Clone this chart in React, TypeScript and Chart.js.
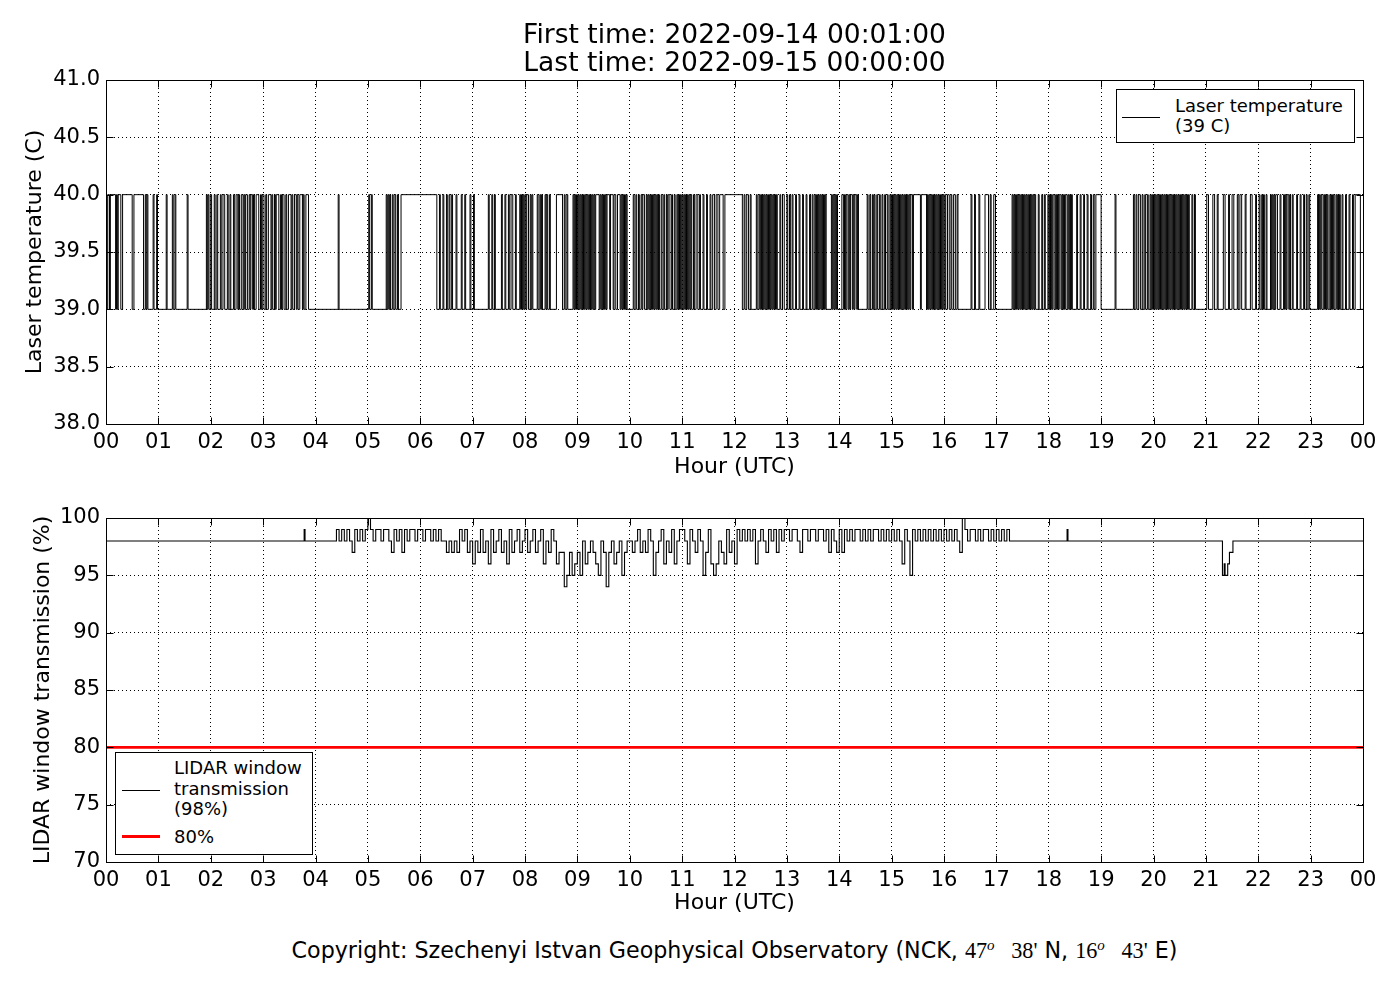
import { useEffect, useRef } from "react";
import { Chart, registerables } from "chart.js";

Chart.register(...registerables);

const FONT = "'DejaVu Sans', 'Noto Sans', sans-serif";

// tick labels
const hourTickLabels = ["00", "01", "02", "03", "04", "05", "06", "07", "08", "09", "10", "11", "12",
  "13", "14", "15", "16", "17", "18", "19", "20", "21", "22", "23", "00"];
const laserTicks = [38.0, 38.5, 39.0, 39.5, 40.0, 40.5, 41.0];
const windowTicks = [70, 75, 80, 85, 90, 95, 100];

const LASER_LOW = 39;
const LASER_HIGH = 40;
const WINDOW_LIMIT = 80;

// laser temperature: [start, end] minutes after 00:00 UTC where it read 40 C (39 C otherwise)
const laserHigh00 = [
  [0, 1], [2, 4], [5, 11], [12, 13], [14, 17], [19, 30], [32, 43], [45, 46], [47, 48], [54, 55], [58, 59],
  [69, 70], [76, 77], [79, 80], [93, 94], [115, 116], [117, 118],
  [120, 121], [124, 125], [127, 128], [131, 132], [134, 136], [139, 140], [142, 143], [146, 147], [149, 151],
  [152, 153], [155, 157], [158, 159], [160, 162], [164, 165], [166, 168], [169, 170], [172, 175], [177, 178],
  [179, 181], [183, 184], [186, 189], [190, 191], [193, 194], [195, 198], [200, 201], [202, 204], [206, 207],
  [209, 212], [213, 214], [216, 218], [219, 220], [222, 225], [226, 227], [229, 232],
];
const laserHigh04 = [
  [266, 267], [301, 302], [304, 305], [321, 322], [323, 324], [325, 326], [328, 329], [331, 332], [334, 335],
  [338, 379], [382, 383], [386, 387], [390, 391], [393, 394], [396, 397], [401, 402], [407, 408], [411, 412],
  [417, 418], [421, 422], [438, 439], [442, 443], [445, 446], [453, 454], [457, 458], [461, 462], [464, 466],
  [469, 470],
];
const laserHigh08 = [
  [474, 475], [476, 477], [478, 479], [480, 481], [482, 484], [486, 487], [488, 489],
  [494, 495], [497, 498], [499, 500], [503, 504], [505, 506], [508, 509], [516, 523], [525, 526], [528, 529],
  [535, 536], [537, 538], [539, 540], [541, 542], [543, 544], [545, 546], [547, 548], [549, 550], [551, 552],
  [553, 554], [555, 556], [557, 558], [559, 560], [561, 565], [566, 567], [568, 569], [570, 571], [572, 573],
  [574, 577], [578, 581], [582, 584], [586, 589], [590, 591], [592, 593], [594, 595], [596, 597],
  [604, 605], [607, 608], [610, 611], [613, 614], [615, 617], [619, 620], [621, 622], [623, 624], [625, 626],
  [627, 628], [629, 630], [631, 632], [633, 634], [636, 637], [639, 640], [642, 643], [644, 646], [648, 649],
  [651, 652], [654, 655], [656, 657], [658, 659], [660, 661], [662, 663], [664, 665], [666, 667], [668, 669],
  [670, 671], [673, 674], [676, 678], [680, 681], [684, 685], [688, 689], [692, 693], [695, 697], [699, 701],
  [703, 707], [709, 729], [731, 732], [734, 736], [738, 739],
];
const laserHigh12 = [
  [745, 746], [748, 749], [750, 751], [752, 753], [754, 755], [756, 757], [758, 759], [760, 761], [762, 763],
  [764, 765], [766, 767], [768, 769], [772, 773], [775, 777], [780, 781], [783, 784], [786, 787], [790, 791],
  [794, 795], [798, 799], [802, 803], [806, 807], [809, 810], [812, 813], [814, 815], [816, 817], [818, 819],
  [820, 821], [822, 823], [824, 825], [831, 832], [833, 834], [835, 836], [837, 838], [843, 845], [846, 847],
  [848, 850], [851, 852], [853, 855], [856, 857], [858, 860], [861, 862], [872, 873], [875, 876], [878, 879],
  [880, 881], [883, 884], [886, 887], [889, 890], [892, 893], [895, 896], [898, 899], [900, 901], [902, 903],
  [904, 905], [906, 907], [908, 909], [910, 911], [912, 913], [914, 915], [916, 917], [918, 919], [920, 921],
  [922, 924], [925, 933], [934, 940], [941, 942], [943, 944], [945, 946], [947, 948], [949, 950], [951, 952],
  [953, 954], [955, 956], [957, 958], [959, 960], [961, 962], [964, 966], [968, 969], [971, 973], [975, 976],
];
const laserHigh16 = [
  [991, 992], [995, 996], [1000, 1001], [1007, 1011], [1013, 1014], [1017, 1019],
  [1038, 1039], [1040, 1041], [1042, 1043], [1044, 1045], [1046, 1047], [1048, 1049], [1050, 1051],
  [1052, 1053], [1054, 1055], [1056, 1057], [1058, 1059], [1060, 1061], [1062, 1063], [1064, 1065],
  [1068, 1069], [1072, 1073], [1075, 1076],
  [1079, 1080], [1081, 1082], [1083, 1084], [1085, 1087], [1088, 1089], [1090, 1091], [1092, 1094],
  [1095, 1096], [1097, 1098], [1099, 1101], [1102, 1103], [1104, 1105], [1106, 1107],
  [1112, 1113], [1116, 1117], [1120, 1121], [1124, 1125], [1128, 1129], [1131, 1132], [1134, 1140], [1156, 1157],
  [1177, 1178], [1180, 1181], [1183, 1185], [1187, 1188], [1190, 1191], [1193, 1194], [1196, 1197], [1198, 1199],
];
const laserHigh20 = [
  [1200, 1201], [1202, 1203], [1204, 1205], [1206, 1207], [1208, 1209], [1210, 1211], [1212, 1213],
  [1214, 1215], [1216, 1217], [1218, 1219], [1220, 1221], [1222, 1223], [1224, 1225], [1226, 1227],
  [1228, 1229], [1230, 1231], [1232, 1233], [1234, 1235], [1236, 1237], [1238, 1239], [1240, 1241],
  [1244, 1245], [1247, 1248],
  [1261, 1263], [1268, 1270], [1273, 1274], [1280, 1282], [1286, 1287], [1290, 1292], [1296, 1297],
  [1299, 1301], [1305, 1306], [1311, 1313], [1317, 1318],
  [1321, 1322], [1324, 1325], [1326, 1327], [1329, 1330], [1334, 1335], [1336, 1337], [1338, 1339],
  [1340, 1342], [1345, 1346], [1349, 1350], [1351, 1352], [1353, 1355], [1356, 1357], [1359, 1360],
  [1364, 1365], [1368, 1369], [1372, 1373], [1375, 1376], [1378, 1379],
  [1388, 1389], [1390, 1391], [1392, 1393], [1395, 1396], [1397, 1398], [1399, 1400], [1402, 1403],
  [1404, 1405], [1406, 1407], [1409, 1410], [1411, 1412], [1413, 1414], [1416, 1417], [1420, 1421],
  [1424, 1425], [1428, 1429], [1431, 1437],
];

// LIDAR window transmission (%), quiet part of the day: minute / value
const windowQuietMinutes = [0, 226, 227, 228, 1100, 1101, 1102, 1275, 1279, 1280, 1281, 1282, 1283, 1285, 1287, 1289, 1291, 1440];
const windowQuietValues = [98, 98, 99, 98, 98, 99, 98, 98, 95, 95, 96, 95, 95, 96, 97, 97, 98, 98];

// busy part, one reading every 3 minutes from 04:00 to 17:57
const WINDOW_BUSY_START_HOUR = 4;
const WINDOW_BUSY_STEP_MIN = 3;
const window04 = [98, 98, 98, 98, 98, 98, 98, 98, 99, 98, 99, 98, 99, 98, 97, 99, 98, 99, 98, 99];
const window05 = [100, 99, 98, 99, 99, 98, 99, 99, 98, 97, 99, 98, 99, 97, 99, 98, 99, 99, 98, 99];
const window06 = [99, 98, 99, 99, 98, 99, 98, 99, 98, 98, 97, 98, 97, 98, 97, 99, 98, 99, 97, 98];
const window07 = [96, 98, 97, 99, 97, 98, 96, 99, 97, 98, 99, 97, 98, 96, 99, 97, 98, 99, 97, 98];
const window08 = [99, 97, 98, 99, 97, 98, 99, 96, 98, 97, 99, 98, 96, 97, 97, 94, 95, 97, 95, 96];
const window09 = [97, 95, 98, 96, 97, 98, 97, 96, 95, 98, 97, 94, 97, 98, 96, 97, 98, 95, 97, 98];
const window10 = [98, 97, 98, 99, 97, 98, 97, 99, 98, 95, 97, 98, 99, 96, 98, 97, 99, 96, 98, 99];
const window11 = [99, 98, 96, 99, 98, 97, 99, 98, 95, 97, 99, 96, 95, 96, 98, 97, 96, 99, 97, 98];
const window12 = [96, 99, 98, 99, 98, 99, 98, 99, 96, 98, 99, 98, 97, 99, 98, 99, 97, 99, 98, 99];
const window13 = [99, 98, 99, 99, 98, 97, 99, 99, 98, 99, 99, 98, 99, 99, 98, 99, 97, 99, 98, 97];
const window14 = [99, 97, 99, 98, 99, 98, 99, 99, 98, 99, 98, 99, 98, 99, 99, 98, 99, 98, 99, 98];
const window15 = [99, 98, 99, 98, 96, 99, 98, 95, 99, 98, 99, 98, 99, 98, 99, 98, 99, 98, 99, 98];
const window16 = [99, 98, 99, 98, 99, 98, 97, 100, 99, 98, 99, 99, 98, 99, 98, 99, 99, 98, 99, 98];
const window17 = [99, 98, 99, 98, 99, 98, 98, 98, 98, 98, 98, 98, 98, 98, 98, 98, 98, 98, 98, 98];
const windowBusyHours = [window04, window05, window06, window07, window08, window09, window10,
  window11, window12, window13, window14, window15, window16, window17];

type Pt = { x: number; y: number };

function laserPoints(): Pt[] {
  const spans = [...laserHigh00, ...laserHigh04, ...laserHigh08, ...laserHigh12, ...laserHigh16, ...laserHigh20];
  const pts: Pt[] = [];
  if (spans[0][0] > 0) pts.push({ x: 0, y: LASER_LOW });
  for (const [s, e] of spans) {
    pts.push({ x: s / 60, y: LASER_HIGH });
    pts.push({ x: e / 60, y: LASER_LOW });
  }
  pts.push({ x: 24, y: LASER_LOW });
  return pts;
}

function windowPoints(): Pt[] {
  const pts: Pt[] = windowQuietMinutes.map((m, i) => ({ x: m / 60, y: windowQuietValues[i] }));
  windowBusyHours.forEach((vals, h) => {
    vals.forEach((v, i) => pts.push({ x: WINDOW_BUSY_START_HOUR + h + (i * WINDOW_BUSY_STEP_MIN) / 60, y: v }));
  });
  return pts.sort((a, b) => a.x - b.x);
}

// matplotlib-like closed frame with inward ticks
const framePlugin = {
  id: "frame",
  afterDraw(chart: any) {
    const { ctx, chartArea, scales } = chart;
    const { left, top, right, bottom } = chartArea;
    const L = Math.round(left) + 0.5, T = Math.round(top) + 0.5;
    const R = Math.round(right) + 0.5, B = Math.round(bottom) + 0.5;
    ctx.save();
    ctx.strokeStyle = "#000";
    ctx.lineWidth = 1;
    ctx.setLineDash([]);
    ctx.strokeRect(L, T, R - L, B - T);
    ctx.beginPath();
    const tl = 7;
    scales.x.ticks.forEach((t: any) => {
      const px = Math.round(scales.x.getPixelForValue(t.value)) + 0.5;
      ctx.moveTo(px, B); ctx.lineTo(px, B - tl);
      ctx.moveTo(px, T); ctx.lineTo(px, T + tl);
    });
    scales.y.ticks.forEach((t: any) => {
      const py = Math.round(scales.y.getPixelForValue(t.value)) + 0.5;
      ctx.moveTo(L, py); ctx.lineTo(L + tl, py);
      ctx.moveTo(R, py); ctx.lineTo(R - tl, py);
    });
    ctx.stroke();
    ctx.restore();
  },
};

type PanelOpts = {
  yMin: number; yMax: number; yTicks: number[]; yFmt: (v: number) => string;
  yTitle: string; yTitlePad: number; xTitlePad: number; padTop: number; xHeight: number;
};

function panelOptions(p: PanelOpts): any {
  const tickFont = { family: FONT, size: 21 };
  const titleFont = { family: FONT, size: 22, lineHeight: 1 };
  return {
    responsive: false,
    animation: false,
    devicePixelRatio: 1,
    layout: { padding: { top: p.padTop, right: 37, left: 0, bottom: 0 } },
    plugins: { legend: { display: false }, title: { display: false }, tooltip: { enabled: false } },
    elements: { point: { radius: 0 } },
    scales: {
      x: {
        type: "linear",
        min: 0,
        max: 24,
        afterBuildTicks: (s: any) => { s.ticks = hourTickLabels.map((_, i) => ({ value: i })); },
        afterFit: (s: any) => { s.height = p.xHeight; },
        ticks: {
          autoSkip: false, maxRotation: 0, padding: 6, color: "#000", font: tickFont,
          callback: (_v: any, i: number) => hourTickLabels[i],
        },
        grid: { color: "#000", lineWidth: 1, drawTicks: false },
        border: { display: false, dash: [1, 3] },
        title: { display: true, text: "Hour (UTC)", color: "#000", font: titleFont, padding: { top: 0, bottom: p.xTitlePad } },
      },
      y: {
        min: p.yMin,
        max: p.yMax,
        afterBuildTicks: (s: any) => { s.ticks = p.yTicks.map((v) => ({ value: v })); },
        afterFit: (s: any) => { s.width = 106; },
        ticks: { padding: 6, color: "#000", font: tickFont, callback: (v: any) => p.yFmt(Number(v)) },
        grid: { color: "#000", lineWidth: 1, drawTicks: false },
        border: { display: false, dash: [1, 3] },
        title: { display: true, text: p.yTitle, color: "#000", font: { family: FONT, size: 22 }, padding: { top: p.yTitlePad, bottom: 0 } },
      },
    },
  };
}

function LaserPanel() {
  const ref = useRef<HTMLCanvasElement | null>(null);
  useEffect(() => {
    if (!ref.current) return;
    const c = new Chart(ref.current, {
      type: "line",
      data: {
        datasets: [{
          label: "Laser temperature (39 C)",
          data: laserPoints(),
          borderColor: "#000",
          borderWidth: 1,
          stepped: true,
          pointRadius: 0,
          fill: false,
        }],
      },
      options: panelOptions({
        yMin: 38, yMax: 41, yTicks: laserTicks, yFmt: (v) => v.toFixed(1),
        yTitle: "Laser temperature (C)", yTitlePad: 22, xTitlePad: 1.5, padTop: 80, xHeight: 56,
      }),
      plugins: [framePlugin],
    });
    return () => c.destroy();
  }, []);
  return <canvas ref={ref} width={1400} height={480} style={{ position: "absolute", left: 0, top: 0 }} />;
}

function WindowPanel() {
  const ref = useRef<HTMLCanvasElement | null>(null);
  useEffect(() => {
    if (!ref.current) return;
    const c = new Chart(ref.current, {
      type: "line",
      data: {
        datasets: [
          {
            label: "LIDAR window transmission (98%)",
            data: windowPoints(),
            borderColor: "#000",
            borderWidth: 1.1,
            stepped: true,
            pointRadius: 0,
            fill: false,
          },
          {
            label: "80%",
            data: [{ x: 0, y: WINDOW_LIMIT }, { x: 24, y: WINDOW_LIMIT }],
            borderColor: "#ff0000",
            borderWidth: 2.6,
            pointRadius: 0,
            fill: false,
          },
        ],
      },
      options: panelOptions({
        yMin: 70, yMax: 100, yTicks: windowTicks, yFmt: (v) => String(v),
        yTitle: "LIDAR window transmission (%)", yTitlePad: 30, xTitlePad: 6, padTop: 38, xHeight: 58,
      }),
      plugins: [framePlugin],
    });
    return () => c.destroy();
  }, []);
  return <canvas ref={ref} width={1400} height={440} style={{ position: "absolute", left: 0, top: 480 }} />;
}

const abs = (s: React.CSSProperties): React.CSSProperties => ({ position: "absolute", ...s });
const math: React.CSSProperties = { fontFamily: "'Liberation Serif', 'DejaVu Serif', serif" };
const supO: React.CSSProperties = { fontStyle: "italic", fontSize: 15, verticalAlign: 8 };

export default function App() {
  return (
    <div style={{ position: "absolute", left: 0, top: 0, width: 1400, height: 1000, background: "#fff", fontFamily: FONT, color: "#000", overflow: "hidden" }}>
      <LaserPanel />
      <WindowPanel />

      <div style={abs({ left: 106, top: 20, width: 1257, textAlign: "center", fontSize: 26.5, lineHeight: "28.4px", whiteSpace: "nowrap" })}>
        <div>First time: 2022-09-14 00:01:00</div>
        <div>Last time: 2022-09-15 00:00:00</div>
      </div>

      {/* legend, laser panel */}
      <div style={abs({ left: 1116, top: 89, width: 239, height: 54, border: "1px solid #000", background: "#fff", boxSizing: "border-box" })} />
      <div style={abs({ left: 1122, top: 117, width: 38, height: 1, background: "#000" })} />
      <div style={abs({ left: 1175, top: 96, fontSize: 18, lineHeight: "20px", whiteSpace: "nowrap" })}>
        <div>Laser temperature</div>
        <div>(39 C)</div>
      </div>

      {/* legend, window panel */}
      <div style={abs({ left: 115, top: 752, width: 198, height: 103, border: "1px solid #000", background: "#fff", boxSizing: "border-box" })} />
      <div style={abs({ left: 122, top: 790, width: 38, height: 1, background: "#000" })} />
      <div style={abs({ left: 122, top: 835, width: 38, height: 3, background: "#ff0000" })} />
      <div style={abs({ left: 174, top: 758, fontSize: 18, lineHeight: "20.5px", whiteSpace: "nowrap" })}>
        <div>LIDAR window</div>
        <div>transmission</div>
        <div>(98%)</div>
      </div>
      <div style={abs({ left: 174, top: 827, fontSize: 18, lineHeight: "20.5px", whiteSpace: "nowrap" })}>80%</div>

      <div style={abs({ left: 106, top: 932, width: 1257, textAlign: "center", fontSize: 22.2, lineHeight: "26px", whiteSpace: "nowrap" })}>
        Copyright: Szechenyi Istvan Geophysical Observatory (NCK,{" "}
        <span style={math}>47<sup style={supO}>o</sup>{"\u2002 "}38'</span> N,{" "}
        <span style={math}>16<sup style={supO}>o</sup>{"\u2002 "}43'</span> E)
      </div>
    </div>
  );
}
